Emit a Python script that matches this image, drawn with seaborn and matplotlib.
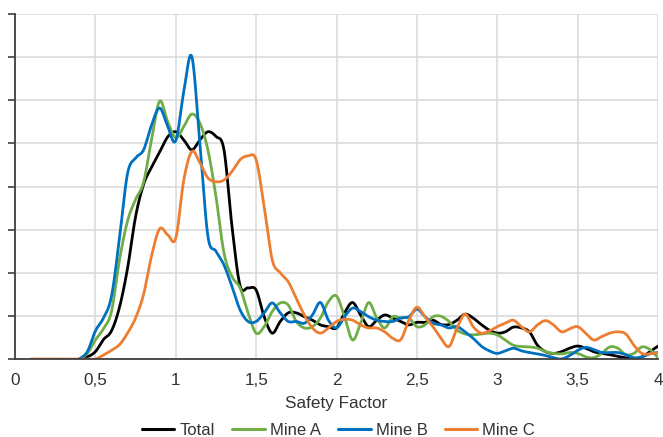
import numpy as np
import pandas as pd
import matplotlib
matplotlib.use("Agg")
import matplotlib.pyplot as plt
import seaborn as sns

# ---------------- data ----------------
series_names = ["Total", "Mine A", "Mine B", "Mine C"]
series_colors = ["#000000", "#70AD47", "#0070C0", "#ED7D31"]

# Total, Mine A, Mine B share x = 0.40 .. 4.00 (step 0.05)
x_main = np.round(np.arange(0.40, 4.0001, 0.05), 2)
# Mine C starts earlier: x = 0.10 .. 4.00 (step 0.05)
x_c = np.round(np.arange(0.10, 4.0001, 0.05), 2)

total = [
    0, 0.05, 0.17, 0.45, 0.65, 1.2, 2.1, 3.3, 4.05, 4.45,
    4.8, 5.15, 5.27, 5.08, 4.85, 5.08, 5.27, 5.16, 4.85, 3.07,
    1.7, 1.65, 1.6, 0.98, 0.6, 0.87, 1.07, 1.07, 0.98, 0.9,
    0.79, 0.75, 0.72, 1.07, 1.31, 1.02, 0.75, 0.9, 1.02, 0.95,
    0.87, 0.79, 0.85, 0.85, 0.9, 0.8, 0.8, 0.9, 1.04, 0.95,
    0.8, 0.67, 0.6, 0.63, 0.74, 0.72, 0.63, 0.32, 0.17, 0.13,
    0.17, 0.25, 0.3, 0.25, 0.17, 0.13, 0.1, 0.06, 0.03, 0.0,
    0.05, 0.17, 0.3,
]
mine_a = [
    0, 0.13, 0.44, 0.7, 1.1, 2.3, 3.2, 3.7, 4.1, 5.1,
    5.98, 5.5, 5.13, 5.39, 5.68, 5.47, 4.85, 3.77, 2.46, 1.91,
    1.65, 1.07, 0.6, 0.75, 1.1, 1.3, 1.25, 0.87, 0.72, 0.75,
    0.95, 1.33, 1.46, 0.98, 0.44, 0.83, 1.31, 0.95, 0.72, 0.98,
    0.95, 0.95, 0.75, 0.79, 0.98, 0.99, 0.87, 0.67, 0.58, 0.56,
    0.58, 0.6, 0.56, 0.44, 0.32, 0.29, 0.28, 0.25, 0.17, 0.13,
    0.12, 0.15, 0.13, 0.05, 0.03, 0.13, 0.28, 0.25, 0.1, 0.13,
    0.28, 0.22, 0.03,
]
mine_b = [
    0, 0.17, 0.65, 0.95, 1.45, 2.8, 4.3, 4.66, 4.85, 5.43,
    5.82, 5.39, 5.06, 6.2, 7.01, 5.0, 2.85, 2.5, 2.18, 1.68,
    1.14, 0.87, 0.87, 1.07, 1.3, 1.07, 0.87, 0.87, 0.83, 1.02,
    1.31, 0.9, 0.72, 0.98, 1.18, 1.1, 0.98, 0.9, 0.87, 0.87,
    0.95, 0.98, 1.16, 0.98, 0.83, 0.79, 0.72, 0.75, 0.63, 0.48,
    0.3, 0.19, 0.13, 0.19, 0.25, 0.19, 0.15, 0.12, 0.08, 0.03,
    0.0, 0.08, 0.2, 0.27, 0.22, 0.15, 0.15, 0.15, 0.1, 0.03,
    0.05, 0.12, 0.15,
]
mine_c = [
    0, 0, 0, 0, 0, 0,
    0, 0, 0, 0.09, 0.2, 0.33, 0.6, 0.95, 1.5, 2.4,
    3.02, 2.88, 2.8, 4.15, 4.81, 4.55, 4.2, 4.11, 4.15, 4.35,
    4.62, 4.71, 4.62, 3.53, 2.3, 2.0, 1.79, 1.4, 1.02, 0.72,
    0.6, 0.72, 0.87, 0.92, 0.9, 0.79, 0.72, 0.72, 0.63, 0.48,
    0.45, 0.9, 1.2, 0.98, 0.75, 0.48, 0.29, 0.72, 1.04, 0.75,
    0.6, 0.65, 0.75, 0.83, 0.9, 0.75, 0.63, 0.79, 0.89, 0.79,
    0.63, 0.7, 0.75, 0.6, 0.44, 0.52, 0.6, 0.63, 0.58, 0.32,
    0.13, 0.12, 0.15,
]

x_ticks = [0, 0.5, 1, 1.5, 2, 2.5, 3, 3.5, 4]
x_tick_labels = ["0", "0,5", "1", "1,5", "2", "2,5", "3", "3,5", "4"]
x_label = "Safety Factor"


# ------------- smoothed-line rendering (like a spreadsheet "smoothed line") -------------
def smooth_path(x, y, n=20):
    P = np.column_stack([np.asarray(x, float), np.asarray(y, float)])
    Pp = np.vstack([P[0], P, P[-1]])
    t = np.linspace(0, 1, n, endpoint=False)[:, None]
    h00 = 2 * t**3 - 3 * t**2 + 1
    h10 = t**3 - 2 * t**2 + t
    h01 = -2 * t**3 + 3 * t**2
    h11 = t**3 - t**2
    out = []
    for i in range(len(P) - 1):
        p0, p1, p2, p3 = Pp[i], Pp[i + 1], Pp[i + 2], Pp[i + 3]
        m1 = (p2 - p0) / 2.0
        m2 = (p3 - p1) / 2.0
        out.append(h00 * p1 + h10 * m1 + h01 * p2 + h11 * m2)
    out.append(P[-1][None, :])
    out = np.vstack(out)
    return out[:, 0], out[:, 1]


frames = []
for name, xs, ys in [("Total", x_main, total), ("Mine A", x_main, mine_a),
                     ("Mine B", x_main, mine_b), ("Mine C", x_c, mine_c)]:
    assert len(xs) == len(ys), name
    sx, sy = smooth_path(xs, ys)
    frames.append(pd.DataFrame({"x": sx, "y": sy, "series": name}))
df = pd.concat(frames, ignore_index=True)

# ---------------- plotting ----------------
sns.set_style("white")
plt.rcParams["font.family"] = ["Liberation Sans", "DejaVu Sans"]

fig = plt.figure(figsize=(6.63, 4.37), dpi=100)
ax = fig.add_axes([15 / 663, 1 - 359 / 437, (658 - 15) / 663, (359 - 14) / 437])

palette = dict(zip(series_names, series_colors))
sns.lineplot(data=df, x="x", y="y", hue="series", hue_order=series_names,
             palette=palette, sort=False, estimator=None, linewidth=2.0,
             ax=ax, legend=False)
for line in ax.lines:
    line.set_solid_capstyle("round")

ax.set_xlim(0, 4)
ax.set_ylim(0, 8)
ax.set_xticks(x_ticks)
ax.set_xticklabels(x_tick_labels)
ax.set_yticks(range(0, 9))
ax.set_yticklabels([])

ax.grid(True, color="#D9D9D9", linewidth=1.1)
ax.set_axisbelow(True)

for s in ["top", "right"]:
    ax.spines[s].set_visible(False)
ax.spines["left"].set_color("#404040")
ax.spines["left"].set_linewidth(1.3)
ax.spines["bottom"].set_color("#404040")
ax.spines["bottom"].set_linewidth(1.3)

ax.tick_params(axis="x", length=0, pad=10, labelsize=12.3, labelcolor="#333333")
ax.tick_params(axis="y", left=True, length=5, width=1.2, color="#404040", direction="out")

ax.set_xlabel(x_label, fontsize=12.3, color="#333333")
ax.xaxis.set_label_coords(0.5, -0.108)
ax.set_ylabel("")

handles = [plt.Line2D([0], [0], color=c, lw=2.2) for c in series_colors]
ax.legend(handles, series_names, loc="center", bbox_to_anchor=(0.503, -0.207),
          ncol=4, frameon=False, fontsize=12, handlelength=1.95,
          handletextpad=0.3, columnspacing=1.05, labelcolor="#333333")

fig.savefig("out.png", dpi=100)
